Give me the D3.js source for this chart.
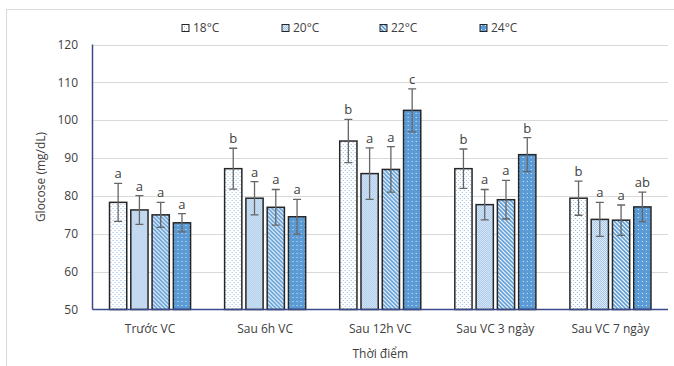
<!DOCTYPE html>
<html><head><meta charset="utf-8">
<script src="https://cdn.jsdelivr.net/npm/d3@7"></script>
<style>body{margin:0;background:#fff}svg{display:block}text{font-family:"Open Sans","Noto Sans",sans-serif;fill:#404040}</style>
</head><body><svg id="c" width="674" height="366"></svg>
<script>
const categories = ["Trước VC","Sau 6h VC","Sau 12h VC","Sau VC 3 ngày","Sau VC 7 ngày"];
const series = ["18°C","20°C","22°C","24°C"];
const values18 = [78.3, 87.2, 94.5, 87.2, 79.4];
const values20 = [76.3, 79.4, 85.9, 77.7, 73.8];
const values22 = [75.0, 77.0, 87.0, 79.0, 73.6];
const values24 = [72.9, 74.5, 102.6, 90.9, 77.1];
const err18 = [5.0, 5.4, 5.7, 5.2, 4.5];
const err20 = [3.8, 4.4, 6.8, 4.0, 4.5];
const err22 = [3.3, 4.7, 6.0, 5.1, 4.0];
const err24 = [2.4, 4.6, 5.7, 4.5, 3.9];
const letters18 = ["a","b","b","b","b"];
const letters20 = ["a","a","a","a","a"];
const letters22 = ["a","a","a","a","a"];
const letters24 = ["a","a","c","b","ab"];
const yTicks = [50,60,70,80,90,100,110,120];

const vals = [values18, values20, values22, values24];
const errs = [err18, err20, err22, err24];
const lets = [letters18, letters20, letters22, letters24];
const patIds = ["p18","p20","p22","p24"];

const svg = d3.select("#c");
const L = 92.5, R = 668, T = 44.5, B = 309.5;

// frame
svg.append("line").attr("x1",6.5).attr("x2",6.5).attr("y1",9).attr("y2",366).attr("stroke","#d9d9d9");
svg.append("line").attr("x1",6).attr("x2",674).attr("y1",9.5).attr("y2",9.5).attr("stroke","#d9d9d9");

// patterns
const defs = svg.append("defs");
let p = defs.append("pattern").attr("id","p18").attr("patternUnits","userSpaceOnUse").attr("width",4).attr("height",4);
p.append("rect").attr("width",4).attr("height",4).attr("fill","#fff");
p.append("rect").attr("x",0).attr("y",0).attr("width",1).attr("height",1).attr("fill","#8fb8e2");
p.append("rect").attr("x",2).attr("y",2).attr("width",1).attr("height",1).attr("fill","#8fb8e2");

p = defs.append("pattern").attr("id","p20").attr("patternUnits","userSpaceOnUse").attr("width",2).attr("height",2);
p.append("rect").attr("width",2).attr("height",2).attr("fill","#9fc3e7");
p.append("rect").attr("x",0).attr("y",0).attr("width",1).attr("height",1).attr("fill","#e4eef9");
p.append("rect").attr("x",1).attr("y",1).attr("width",1).attr("height",1).attr("fill","#e4eef9");

p = defs.append("pattern").attr("id","p22").attr("patternUnits","userSpaceOnUse").attr("width",4).attr("height",4);
p.append("rect").attr("width",4).attr("height",4).attr("fill","#fff");
p.append("path").attr("d","M-1,-1 L5,5 M-1,3 L1,5 M3,-1 L5,1").attr("stroke","#5b9bd5").attr("stroke-width",1.6);

p = defs.append("pattern").attr("id","p24").attr("patternUnits","userSpaceOnUse").attr("width",4).attr("height",4);
p.append("rect").attr("width",4).attr("height",4).attr("fill","#5b9bd5");
p.append("rect").attr("x",1).attr("y",1).attr("width",1).attr("height",1).attr("fill","#dbe8f6");

const y = d3.scaleLinear().domain([50,120]).range([B,T]);
const x0 = d3.scaleBand().domain(categories).range([L,R]).paddingInner(0).paddingOuter(0);
const x1 = d3.scaleBand().domain(series).range([0,x0.bandwidth()]).paddingInner(0.19).paddingOuter(0.8);

// gridlines
svg.append("g").selectAll("line").data(yTicks.slice(1)).join("line")
  .attr("x1",L).attr("x2",R).attr("y1",d=>Math.round(y(d))+0.5).attr("y2",d=>Math.round(y(d))+0.5)
  .attr("stroke","#d9d9d9").attr("stroke-width",1);

// y tick labels
svg.append("g").selectAll("text").data(yTicks).join("text")
  .attr("x",78).attr("y",d=>y(d)).attr("dy","0.35em").attr("text-anchor","end")
  .attr("font-size",12).text(d=>d);

// bars
const groups = svg.append("g").selectAll("g").data(categories).join("g")
  .attr("transform",d=>`translate(${x0(d)},0)`);
series.forEach((s,si)=>{
  groups.append("rect")
    .attr("x",x1(s)).attr("width",x1.bandwidth())
    .attr("y",(d,i)=>y(vals[si][i])).attr("height",(d,i)=>B-y(vals[si][i]))
    .attr("fill",`url(#${patIds[si]})`).attr("stroke","#262626").attr("stroke-width",1.5);
});
// error bars and letters
series.forEach((s,si)=>{
  const cx = x1(s)+x1.bandwidth()/2;
  groups.append("path")
    .attr("d",(d,i)=>{
      const t=y(vals[si][i]+errs[si][i]), b=y(vals[si][i]-errs[si][i]);
      return `M${cx},${t}V${b}M${cx-4},${t}H${cx+4}M${cx-4},${b}H${cx+4}`;
    })
    .attr("stroke","#666").attr("stroke-width",1.3).attr("fill","none");
  groups.append("text")
    .attr("x",cx).attr("y",(d,i)=>y(vals[si][i]+errs[si][i])-5)
    .attr("text-anchor","middle").attr("font-size",13)
    .text((d,i)=>lets[si][i]);
});

// axes lines
svg.append("line").attr("x1",L).attr("x2",L).attr("y1",T).attr("y2",B).attr("stroke","#3b4a8a").attr("stroke-width",1.5);
svg.append("line").attr("x1",L).attr("x2",R).attr("y1",B).attr("y2",B).attr("stroke","#3b4a8a").attr("stroke-width",1.5);

// category labels
svg.append("g").selectAll("text").data(categories).join("text")
  .attr("x",d=>x0(d)+x0.bandwidth()/2).attr("y",329).attr("dy","0.35em")
  .attr("text-anchor","middle").attr("font-size",12).text(d=>d);

// axis titles
svg.append("text").attr("x",(L+R)/2).attr("y",354).attr("dy","0.35em").attr("text-anchor","middle")
  .attr("font-size",12).text("Thời điểm");
svg.append("text").attr("transform",`translate(41,${(T+B)/2}) rotate(-90)`).attr("dy","0.35em")
  .attr("text-anchor","middle").attr("font-size",12).text("Glocose (mg/dL)");

// legend
const legX = [182, 282, 380, 480];
const leg = svg.append("g").selectAll("g").data(series).join("g")
  .attr("transform",(d,i)=>`translate(${legX[i]},28)`);
leg.append("rect").attr("x",0).attr("y",-3.5).attr("width",7).attr("height",7)
  .attr("fill",(d,i)=>`url(#${patIds[i]})`).attr("stroke","#262626").attr("stroke-width",1);
leg.append("text").attr("x",11).attr("y",0).attr("dy","0.35em").attr("font-size",12).text(d=>d);
</script></body></html>
